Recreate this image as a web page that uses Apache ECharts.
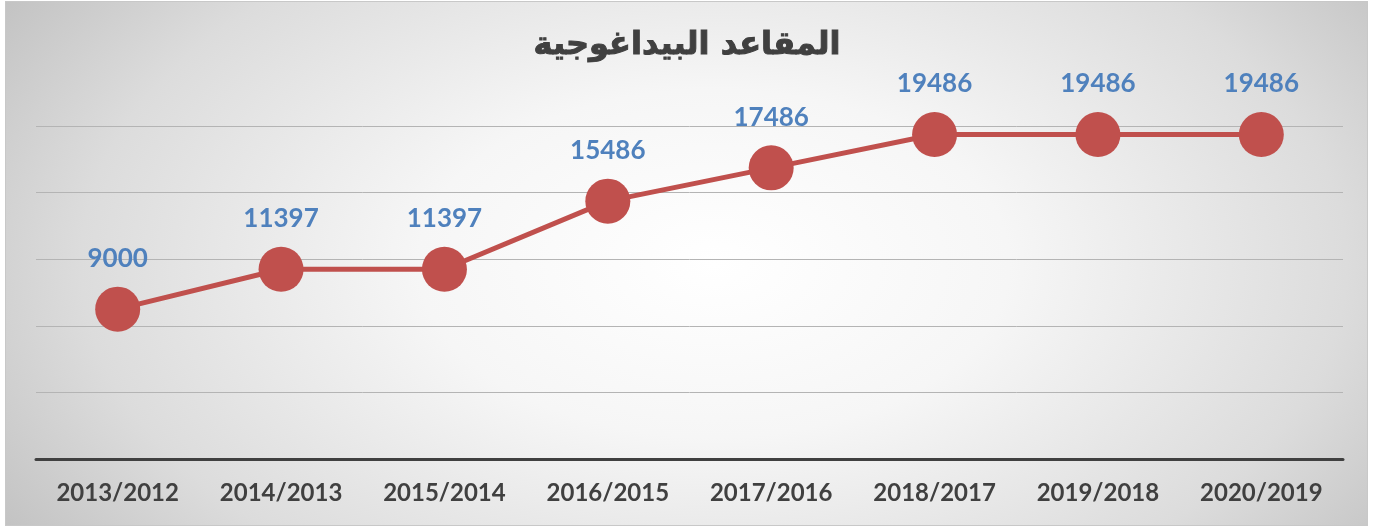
<!DOCTYPE html>
<html>
<head>
<meta charset="utf-8">
<script src="https://cdn.jsdelivr.net/npm/echarts@6/dist/echarts.min.js"></script>
<style>
  html, body { margin: 0; padding: 0; background: #fff; }
  #frame {
    position: absolute; left: 5px; top: 1px; width: 1361px; height: 523px;
    border: 1px solid #c8c8c8;
    background: radial-gradient(ellipse 62% 95% at 52% 50%, #ffffff 0%, #f6f6f6 35%, #dcdcdc 75%, #c2c2c2 100%);
  }
  #chart { position: absolute; left: -6px; top: -2px; width: 1374px; height: 528px; }
</style>
</head>
<body>
<div id="frame"><div id="chart"></div></div>
<script>
const categories = ['2013/2012', '2014/2013', '2015/2014', '2016/2015', '2017/2016', '2018/2017', '2019/2018', '2020/2019']
const seats = [9000, 11397, 11397, 15486, 17486, 19486, 19486, 19486]
const titleText = 'المقاعد البيداغوجية'

const chart = echarts.init(document.getElementById('chart'))
chart.setOption({
  backgroundColor: 'transparent',
  animation: false,
  title: {
    text: titleText,
    left: 'center',
    top: 25,
    textStyle: {
      fontFamily: 'DejaVu Sans',
      fontWeight: 'bold',
      fontSize: 32,
      color: '#404040',
      textBorderColor: '#404040',
      textBorderWidth: 1
    }
  },
  grid: { left: 36, right: 31, top: 126, bottom: 69 },
  xAxis: {
    type: 'category',
    data: categories,
    axisLine: { lineStyle: { color: '#404040', width: 3 } },
    axisTick: { show: false },
    axisLabel: {
      margin: 22,
      fontFamily: 'Lato',
      fontWeight: 'bold',
      fontSize: 24,
      color: '#404040'
    }
  },
  yAxis: {
    type: 'value',
    min: 0,
    max: 20000,
    interval: 4000,
    axisLabel: { show: false },
    axisLine: { show: false },
    axisTick: { show: false },
    splitLine: { lineStyle: { color: '#b4b4b4', width: 1 } }
  },
  series: [{
    type: 'line',
    data: seats,
    symbol: 'circle',
    symbolSize: 45,
    itemStyle: { color: '#c0504d' },
    lineStyle: { color: '#c0504d', width: 5 },
    label: {
      show: true,
      position: 'top',
      distance: 15,
      fontFamily: 'Lato',
      fontWeight: 'bold',
      fontSize: 26,
      color: '#4f81bd'
    }
  }]
})
</script>
</body>
</html>
